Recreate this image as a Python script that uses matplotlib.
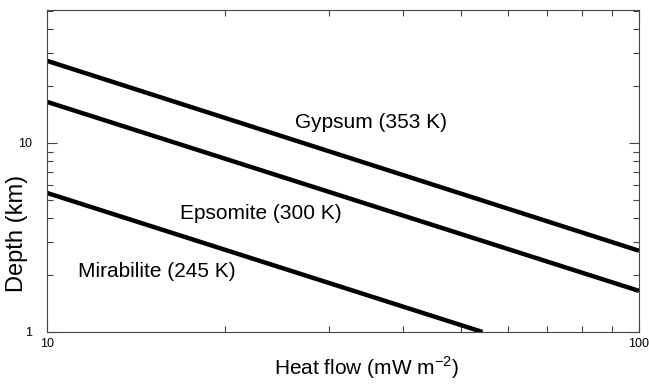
import matplotlib
matplotlib.use("Agg")
import matplotlib.pyplot as plt
from matplotlib.ticker import LogLocator, NullFormatter, FixedLocator, FixedFormatter

plt.rcParams['font.family'] = ['Liberation Sans', 'DejaVu Sans']
plt.rcParams['mathtext.fontset'] = 'custom'
plt.rcParams['mathtext.rm'] = 'Liberation Sans'

# heat flow (mW m^-2) and depth (km)
gypsum_q = [10, 100]
gypsum_z = [27.2, 2.69]
epsomite_q = [10, 100]
epsomite_z = [16.5, 1.65]
mirabilite_q = [10, 54.4]
mirabilite_z = [5.44, 1.0]

labels = ["Gypsum (353 K)", "Epsomite (300 K)", "Mirabilite (245 K)"]
label_pos = [(26.2, 12.9), (16.8, 4.26), (11.3, 2.08)]

fig = plt.figure(figsize=(6.49, 3.85), dpi=100)
ax = fig.add_axes([0.0724, 0.1377, 0.9122, 0.8363])

ax.plot(gypsum_q, gypsum_z, color="black", lw=3.2, solid_capstyle="butt")
ax.plot(epsomite_q, epsomite_z, color="black", lw=3.2, solid_capstyle="butt")
ax.plot(mirabilite_q, mirabilite_z, color="black", lw=3.2, solid_capstyle="butt")

for txt, (x, y) in zip(labels, label_pos):
    ax.text(x, y, txt, fontsize=15, ha="left", va="center")

ax.set_xscale("log")
ax.set_yscale("log")
ax.set_xlim(10, 100)
ax.set_ylim(1, 50.5)

ax.xaxis.set_major_locator(FixedLocator([10, 100]))
ax.xaxis.set_major_formatter(FixedFormatter(["10", "100"]))
ax.yaxis.set_major_locator(FixedLocator([1, 10]))
ax.yaxis.set_major_formatter(FixedFormatter(["1", "10"]))
ax.xaxis.set_minor_locator(LogLocator(base=10, subs=range(2, 10)))
ax.yaxis.set_minor_locator(LogLocator(base=10, subs=range(2, 10)))
ax.xaxis.set_minor_formatter(NullFormatter())
ax.yaxis.set_minor_formatter(NullFormatter())

ax.tick_params(which="both", direction="in", top=True, right=True,
               labelsize=9, width=0.8, color="#444444")
ax.tick_params(which="major", length=7)
ax.tick_params(which="minor", length=4.5)
ax.tick_params(axis="x", which="major", pad=4)
ax.tick_params(axis="y", which="major", pad=11)
for s in ax.spines.values():
    s.set_linewidth(0.8)
    s.set_color("#444444")

ax.set_xlabel("Heat flow (mW m$^{\\mathregular{-2}}$)", fontsize=15, va="top")
ax.set_ylabel("Depth (km)", fontsize=17)
ax.xaxis.set_label_coords(0.539, -0.07)
ax.yaxis.set_label_coords(-0.032, 0.307)

fig.savefig("out.png", dpi=100)
plt.close()
